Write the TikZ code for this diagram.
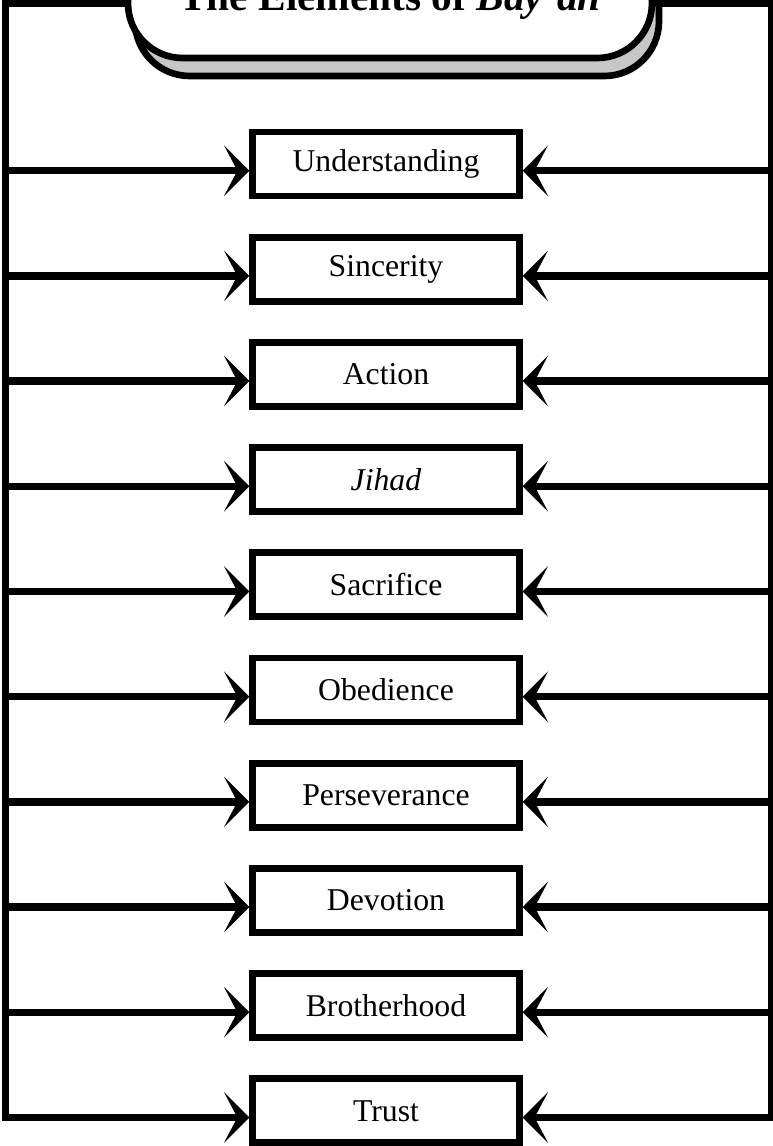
\documentclass[tikz,border=0pt]{standalone}
\usepackage{fontspec}
\setmainfont{Liberation Serif}
\usetikzlibrary{arrows.meta, shadows}

\begin{document}
\begin{tikzpicture}[x=0.75pt, y=-0.75pt,
    elem/.style={draw, line width=5pt, fill=white, minimum width=200pt, minimum height=48pt,
        inner sep=0pt, font=\fontsize{23.8}{28}\selectfont},
    link/.style={line width=5.6pt, line join=miter, -{Stealth[length=19pt, width=38pt, inset=10pt]}},
    titlebox/.style={draw, line width=5pt, fill=white, rounded corners=41pt, minimum width=393pt,
        inner sep=0pt, text height=67.5pt, text depth=36pt, font=\fontsize{31}{37}\selectfont\bfseries,
        drop shadow={shadow xshift=5.25pt, shadow yshift=-13.5pt, opacity=1, fill=black!22, draw=black, line width=5pt}}]
                            \path[use as bounding box, clip] (0, 0) rectangle (773, 1146);

                            \node (title)[titlebox, anchor=base] at (390, 10) {The Elements of \textit{Bay'ah}};

                            \node (under)[elem] at (386, 164) {Understanding};
                            \node (sinc)[elem] at (386, 269.2) {Sincerity};
                            \node (action)[elem] at (386, 374.4) {Action};
                            \node (jihad)[elem] at (386, 479.6) {\textit{Jihad}};
                            \node (sacr)[elem] at (386, 584.8) {Sacrifice};
                            \node (obed)[elem] at (386, 690) {Obedience};
                            \node (pers)[elem] at (386, 795.2) {Perseverance};
                            \node (devo)[elem] at (386, 900.4) {Devotion};
                            \node (broth)[elem] at (386, 1005.6) {Brotherhood};
                            \node (trust)[elem] at (386, 1110.8) {Trust};

                            \coordinate (tl) at (5.5, 3.5);
                            \coordinate (tr) at (772, 3.5);

                            % outer frame, ends in the last row
                            \draw[link] (title.west |- tl) -- (tl) -- ([yshift=-5pt]trust.west -| tl) -- ([yshift=-5pt]trust.west);
                            \draw[link] (title.east |- tr) -- (tr) -- ([yshift=-5pt]trust.east -| tr) -- ([yshift=-5pt]trust.east);

                            \draw[link] ([yshift=-5pt]under.west -| tl) -- ([yshift=-5pt]under.west);
                            \draw[link] ([yshift=-5pt]sinc.west -| tl) -- ([yshift=-5pt]sinc.west);
                            \draw[link] ([yshift=-5pt]action.west -| tl) -- ([yshift=-5pt]action.west);
                            \draw[link] ([yshift=-5pt]jihad.west -| tl) -- ([yshift=-5pt]jihad.west);
                            \draw[link] ([yshift=-5pt]sacr.west -| tl) -- ([yshift=-5pt]sacr.west);
                            \draw[link] ([yshift=-5pt]obed.west -| tl) -- ([yshift=-5pt]obed.west);
                            \draw[link] ([yshift=-5pt]pers.west -| tl) -- ([yshift=-5pt]pers.west);
                            \draw[link] ([yshift=-5pt]devo.west -| tl) -- ([yshift=-5pt]devo.west);
                            \draw[link] ([yshift=-5pt]broth.west -| tl) -- ([yshift=-5pt]broth.west);

                            \draw[link] ([yshift=-5pt]under.east -| tr) -- ([yshift=-5pt]under.east);
                            \draw[link] ([yshift=-5pt]sinc.east -| tr) -- ([yshift=-5pt]sinc.east);
                            \draw[link] ([yshift=-5pt]action.east -| tr) -- ([yshift=-5pt]action.east);
                            \draw[link] ([yshift=-5pt]jihad.east -| tr) -- ([yshift=-5pt]jihad.east);
                            \draw[link] ([yshift=-5pt]sacr.east -| tr) -- ([yshift=-5pt]sacr.east);
                            \draw[link] ([yshift=-5pt]obed.east -| tr) -- ([yshift=-5pt]obed.east);
                            \draw[link] ([yshift=-5pt]pers.east -| tr) -- ([yshift=-5pt]pers.east);
                            \draw[link] ([yshift=-5pt]devo.east -| tr) -- ([yshift=-5pt]devo.east);
                            \draw[link] ([yshift=-5pt]broth.east -| tr) -- ([yshift=-5pt]broth.east);

                        \end{tikzpicture}
\end{document}
